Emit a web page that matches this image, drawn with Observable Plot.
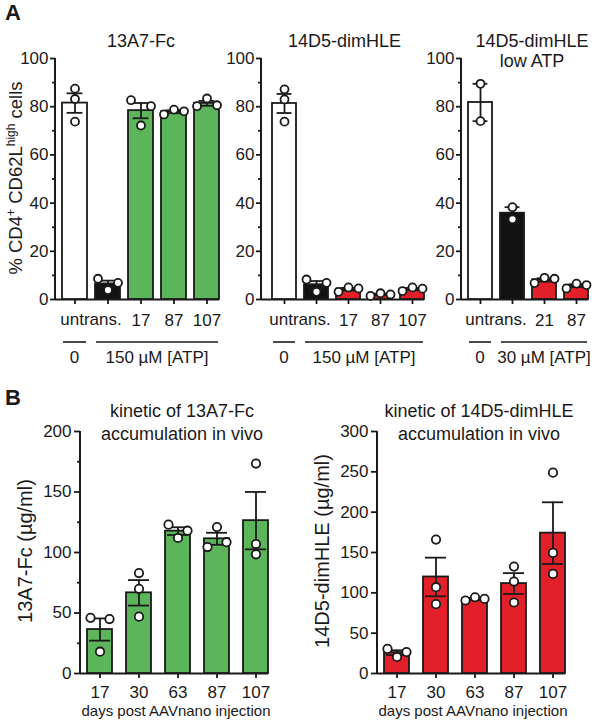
<!DOCTYPE html>
<html><head><meta charset="utf-8">
<script src="https://cdn.jsdelivr.net/npm/d3@7"></script>
<script src="https://cdn.jsdelivr.net/npm/@observablehq/plot@0.6"></script>
<style>
body{margin:0;background:#fff;}
#fig{position:relative;width:597px;height:724px;background:#fff;font-family:"Liberation Sans",Arial,Helvetica,sans-serif;color:#1a1a1a;}
#fig svg{position:absolute;overflow:visible;}
</style></head><body><div id="fig"></div>
<script>
// ---------------- data ----------------
const aYTicks = [0, 20, 40, 60, 80, 100];
const aYMinorTicks = [10, 30, 50, 70, 90];
const b1YTicks = [0, 50, 100, 150, 200];
const b1YMinorTicks = [25, 75, 125, 175];
const b2YTicks = [0, 50, 100, 150, 200, 250, 300];

// Panel A, 13A7-Fc
const a1Categories = ["untrans. 0", "untrans. ATP", "17", "87", "107"];
const a1TickLabels = ["", "", "17", "87", "107"];
const a1Kinds = ["white", "black", "green", "green", "green"];
const a1Points = [[87.5, 83.2, 73.8], [8.6, 3.9, 6.9], [82.7, 72.2, 80.2], [76.8, 78.8, 78.1], [80.2, 83.4, 80.6]];
const a1Groups = ["0", "150 µM [ATP]"];

// Panel A, 14D5-dimHLE
const a2Categories = ["untrans. 0", "untrans. ATP", "17", "87", "107"];
const a2TickLabels = ["", "", "17", "87", "107"];
const a2Kinds = ["white", "black", "red", "red", "red"];
const a2Points = [[87.2, 83.0, 73.8], [8.3, 3.2, 6.9], [3.2, 5.0, 4.6], [1.5, 2.6, 2.1], [3.5, 5.0, 4.5]];
const a2Groups = ["0", "150 µM [ATP]"];

// Panel A, 14D5-dimHLE low ATP
const a3Categories = ["untrans. 0", "untrans. ATP", "21", "87"];
const a3TickLabels = ["", "", "21", "87"];
const a3Kinds = ["white", "black", "red", "red"];
const a3Points = [[89.5, 74.0], [38.3, 33.3], [6.8, 9.0, 8.6], [4.6, 6.6, 6.0]];
const a3Groups = ["0", "30 µM [ATP]"];

// Panel B
const bDays = ["17", "30", "63", "87", "107"];
const b1Points = [[46, 18, 45], [83, 70, 47], [123, 112, 118], [104.5, 121, 108.5], [173.5, 107, 98.5]];
const b2Points = [[30.5, 20.5, 26.5], [166, 107, 86], [90.5, 94.5, 92.5], [132.5, 114, 88], [249, 149.5, 123.5]];

// ---------------- drawing ----------------
const COLORS = {white: "#ffffff", black: "#121212", green: "#5db55b", red: "#e2202a"};
const INK = "#1a1a1a";
const fig = document.getElementById("fig");

function txt(sel, x, y, s, size, opts = {}) {
  const t = sel.append("text").attr("x", x).attr("y", y)
    .attr("text-anchor", opts.anchor || "middle")
    .attr("fill", INK)
    .style("font-size", size + "px");
  if (opts.bold) t.style("font-weight", "bold");
  if (opts.dy) t.attr("dy", opts.dy);
  t.text(s);
  return t;
}

function panel(cfg) {
  const stats = cfg.cats.map((c, i) => {
    const v = cfg.points[i];
    return {cat: c, mean: d3.mean(v), sem: d3.deviation(v) / Math.sqrt(v.length), fill: COLORS[cfg.kinds[i]]};
  });
  const innerH = cfg.height - cfg.marginTop - cfg.marginBottom;
  const thr = 9.5 * cfg.yMax / innerH;
  const dots = [];
  cfg.cats.forEach((c, i) => {
    const v = cfg.points[i];
    const collide = v.some((a, j) => v.some((b, k) => k > j && Math.abs(a - b) < thr));
    v.forEach((y, j) => dots.push({cat: c, y, slot: collide ? j - (v.length - 1) / 2 : 0}));
  });
  const slots = [...new Set(dots.map(d => d.slot))];
  const tickLabel = new Map(cfg.cats.map((c, i) => [c, cfg.tickLabels[i]]));
  const marks = [
    Plot.ruleY([0], {stroke: INK, strokeWidth: 2}),
    Plot.barY(stats, {x: "cat", y: "mean", fill: "fill", stroke: INK, strokeWidth: 1.8}),
    Plot.ruleX(stats, {x: "cat", y1: d => d.mean - d.sem, y2: d => d.mean + d.sem, stroke: INK, strokeWidth: 1.8}),
    Plot.tickY(stats, {x: "cat", y: d => d.mean + d.sem, insetLeft: cfg.capInset, insetRight: cfg.capInset, stroke: INK, strokeWidth: 1.8}),
    Plot.tickY(stats, {x: "cat", y: d => d.mean - d.sem, insetLeft: cfg.capInset, insetRight: cfg.capInset, stroke: INK, strokeWidth: 1.8}),
    ...slots.map(s => Plot.dot(dots.filter(d => d.slot === s), {x: "cat", y: "y", dx: s * cfg.dotSpacing, r: cfg.r, fill: "white", stroke: INK, strokeWidth: 1.8})),
    Plot.axisY({ticks: cfg.yTicks, tickSize: cfg.yTickSize, tickPadding: cfg.yPad, stroke: INK, strokeWidth: 1.8, fontSize: 17, fill: INK, label: null}),
    Plot.axisX({tickSize: 5, tickPadding: cfg.xPad, tickFormat: d => tickLabel.get(d), stroke: INK, strokeWidth: 1.8, fontSize: 17, fill: INK, label: null})
  ];
  if (cfg.yMinor) marks.push(Plot.axisY({ticks: cfg.yMinor, tickSize: 3, tickFormat: () => "", stroke: INK, strokeWidth: 1.8, label: null}));
  const chart = Plot.plot({
    width: cfg.width, height: cfg.height,
    marginLeft: cfg.marginLeft, marginRight: cfg.marginRight, marginTop: cfg.marginTop, marginBottom: cfg.marginBottom,
    style: {fontFamily: '"Liberation Sans", Arial, Helvetica, sans-serif', fontSize: "17px", color: INK, background: "transparent", overflow: "visible"},
    x: {domain: cfg.cats, paddingInner: cfg.padIn, paddingOuter: cfg.padOut, align: 1, label: null},
    y: {domain: [0, cfg.yMax], label: null},
    color: {type: "identity"},
    marks
  });
  chart.style.left = cfg.left + "px";
  chart.style.top = cfg.top + "px";
  fig.appendChild(chart);
  const svg = d3.select(chart);
  const y0 = cfg.height - cfg.marginBottom;
  // y axis line
  svg.append("line").attr("x1", cfg.marginLeft).attr("x2", cfg.marginLeft)
    .attr("y1", cfg.marginTop).attr("y2", y0 + 1)
    .attr("stroke", INK).attr("stroke-width", 2);
  const sx = chart.scale("x");
  const bw = sx.bandwidth;
  const start = c => sx.apply(c);
  const center = c => sx.apply(c) + bw / 2;
  return {svg, chart, start, center, bw, y0};
}

function panelA(cfg, groups, titleLines, titleX) {
  const p = panel(Object.assign({
    top: 0, height: 370, marginTop: 58, marginBottom: 71,
    yMax: 100, yTicks: aYTicks, yMinor: aYMinorTicks, yTickSize: 5, yPad: 2, xPad: 9,
    padIn: 0.235, padOut: 0.1, capInset: 4.6, dotSpacing: 10, r: 4
  }, cfg));
  const {svg, start, center, bw, y0} = p;
  const c = cfg.cats;
  // shared "untrans." label between the first two bars
  txt(svg, (center(c[0]) + center(c[1])) / 2, y0 + 14, "untrans.", 17, {dy: "0.71em"});
  // group lines and labels
  const spans = [[c[0], c[0]], [c[1], c[c.length - 1]]];
  spans.forEach(([a, b], i) => {
    const x1 = start(a) + 1, x2 = start(b) + bw - 1;
    svg.append("line").attr("x1", x1).attr("x2", x2).attr("y1", 342).attr("y2", 342)
      .attr("stroke", INK).attr("stroke-width", 1.6);
    txt(svg, (x1 + x2) / 2, 363, groups[i], 17);
  });
  titleLines.forEach((t, i) => txt(svg, titleX, 47 + i * 20, t, 18));
  return p;
}

// A1
const pA1 = panelA({left: 0, width: 230, marginLeft: 55, marginRight: 11, cats: a1Categories, tickLabels: a1TickLabels, kinds: a1Kinds, points: a1Points},
  a1Groups, ["13A7-Fc"], 141);
txt(pA1.svg, 5, 20, "A", 22, {anchor: "start", bold: true});
{
  const t = pA1.svg.append("text").attr("transform", "translate(16,178) rotate(-90)")
    .attr("text-anchor", "middle").attr("dy", "0.35em").attr("fill", INK).style("font-size", "18.5px");
  t.append("tspan").text("% CD4");
  t.append("tspan").attr("baseline-shift", "super").style("font-size", "12px").text("+");
  t.append("tspan").text(" CD62L");
  t.append("tspan").attr("baseline-shift", "super").style("font-size", "12px").text("high");
  t.append("tspan").text(" cells");
}
// A2
panelA({left: 205, width: 225, marginLeft: 56, marginRight: 6, cats: a2Categories, tickLabels: a2TickLabels, kinds: a2Kinds, points: a2Points},
  a2Groups, ["14D5-dimHLE"], 139.5);
// A3
panelA({left: 405, width: 192, marginLeft: 56, marginRight: 9, cats: a3Categories, tickLabels: a3TickLabels, kinds: a3Kinds, points: a3Points},
  a3Groups, ["14D5-dimHLE", "low ATP"], 127);

// B panels
function panelB(cfg, titleLines, yTitle) {
  const p = panel(Object.assign({
    top: 380, height: 344, marginTop: 51, marginBottom: 51,
    yTickSize: 6, yPad: 3, xPad: 7,
    padIn: 0.36, padOut: 0.085, capInset: 2, dotSpacing: 9.5, r: 4.2,
    cats: bDays, tickLabels: bDays, kinds: bDays.map(() => cfg.kind)
  }, cfg));
  const {svg} = p;
  const mid = (cfg.marginLeft + cfg.width - cfg.marginRight) / 2;
  titleLines.forEach((t, i) => txt(svg, mid + 8, 37 + i * 23, t, 18));
  txt(svg, mid + 2, 336, "days post AAVnano injection", 15);
  svg.append("text").attr("transform", "translate(25,171) rotate(-90)")
    .attr("text-anchor", "middle").attr("dy", "0.35em").attr("fill", INK).style("font-size", "20px").text(yTitle);
  return p;
}
const pB1 = panelB({left: 0, width: 290, marginLeft: 80, marginRight: 22, yMax: 200, yTicks: b1YTicks, yMinor: b1YMinorTicks, points: b1Points, kind: "green"},
  ["kinetic of 13A7-Fc", "accumulation in vivo"], "13A7-Fc (µg/ml)");
txt(pB1.svg, 5, 25, "B", 22, {anchor: "start", bold: true});
panelB({left: 297, width: 300, marginLeft: 80, marginRight: 32, yMax: 300, yTicks: b2YTicks, points: b2Points, kind: "red"},
  ["kinetic of 14D5-dimHLE", "accumulation in vivo"], "14D5-dimHLE (µg/ml)");
</script></body></html>
